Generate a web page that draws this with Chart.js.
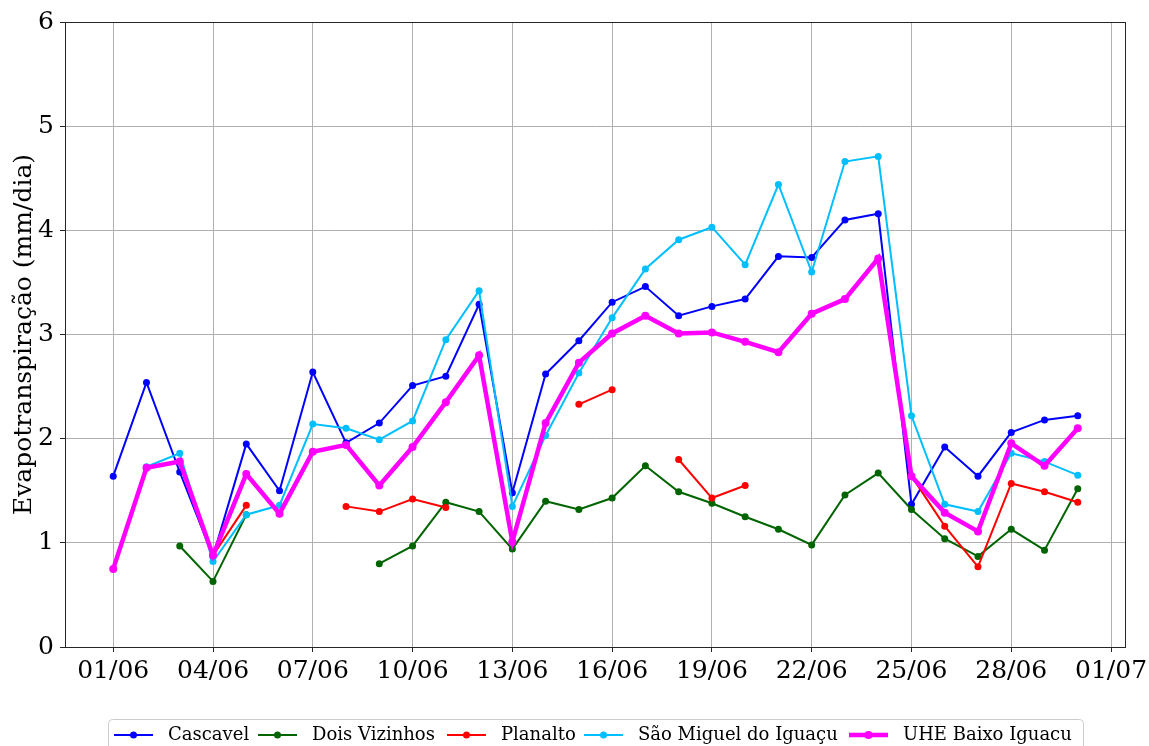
<!DOCTYPE html>
<html>
<head>
<meta charset="utf-8">
<script src="https://cdn.jsdelivr.net/npm/chart.js"></script>
<style>
  html, body { margin: 0; padding: 0; background: #ffffff; }
  #wrap { width: 1149px; height: 746px; }
</style>
</head>
<body>
<div id="wrap"><canvas id="chart"></canvas></div>
<script>
// days of June; tick 31 is shown as 01/07
const days = [1,2,3,4,5,6,7,8,9,10,11,12,13,14,15,16,17,18,19,20,21,22,23,24,25,26,27,28,29,30];
const xTicks = [1,4,7,10,13,16,19,22,25,28,31];
const yTicks = [0,1,2,3,4,5,6];

const cascavel = [1.64,2.54,1.68,0.87,1.95,1.50,2.64,1.96,2.15,2.51,2.60,3.29,1.48,2.62,2.94,3.31,3.46,3.18,3.27,3.34,3.75,3.74,4.10,4.16,1.37,1.92,1.64,2.06,2.18,2.22];
const doisVizinhos = [null,null,0.97,0.63,1.27,null,null,null,0.80,0.97,1.39,1.30,0.94,1.40,1.32,1.43,1.74,1.49,1.38,1.25,1.13,0.98,1.46,1.67,1.32,1.04,0.87,1.13,0.93,1.52];
const planalto = [null,null,null,0.88,1.36,null,null,1.35,1.30,1.42,1.34,null,null,null,2.33,2.47,null,1.80,1.43,1.55,null,null,null,null,1.64,1.16,0.77,1.57,1.49,1.39];
const saoMiguel = [null,1.73,1.86,0.82,1.27,1.36,2.14,2.10,1.99,2.17,2.95,3.42,1.35,2.03,2.63,3.16,3.63,3.91,4.03,3.67,4.44,3.60,4.66,4.71,2.22,1.37,1.30,1.86,1.78,1.65];
const uhe = [0.75,1.72,1.78,0.88,1.66,1.28,1.875,1.94,1.55,1.92,2.35,2.80,1.01,2.15,2.73,3.01,3.18,3.01,3.02,2.93,2.83,3.20,3.34,3.73,1.64,1.29,1.11,1.955,1.74,2.10];

const series = [
  { label: 'Cascavel', values: cascavel, color: '#0000ff', width: 2, radius: 3.5 },
  { label: 'Dois Vizinhos', values: doisVizinhos, color: '#006400', width: 2, radius: 3.5 },
  { label: 'Planalto', values: planalto, color: '#ff0000', width: 2, radius: 3.5 },
  { label: 'São Miguel do Iguaçu', values: saoMiguel, color: '#00bfff', width: 2, radius: 3.5 },
  { label: 'UHE Baixo Iguacu', values: uhe, color: '#ff00ff', width: 4.5, radius: 4 }
];

const serif = "'DejaVu Serif', serif";

const datasets = series.map((s, i) => ({
  label: s.label,
  data: days.map((d, k) => ({ x: d, y: s.values[k] })),
  borderColor: s.color,
  backgroundColor: s.color,
  pointBackgroundColor: s.color,
  pointBorderColor: s.color,
  borderWidth: s.width,
  pointRadius: s.radius,
  pointBorderWidth: 0,
  pointHoverRadius: s.radius,
  tension: 0,
  spanGaps: false,
  order: series.length - i
}));

function dayLabel(v) {
  const pad = n => (n < 10 ? '0' : '') + n;
  if (v <= 30) return pad(v) + '/06';
  return pad(v - 30) + '/07';
}

// frame around the plot + matplotlib style legend
const framePlugin = {
  id: 'frame',
  afterDraw(chart) {
    const { ctx, chartArea: a } = chart;
    ctx.save();
    ctx.strokeStyle = '#262626';
    ctx.lineWidth = 1;
    ctx.strokeRect(a.left + 0.5, a.top + 0.5, a.right - a.left - 1, a.bottom - a.top);

    // legend
    const lx = 108, ly = 719, lw = 975, lh = 40;
    ctx.fillStyle = 'rgba(255,255,255,0.8)';
    ctx.strokeStyle = '#cccccc';
    ctx.lineWidth = 1;
    ctx.beginPath();
    ctx.roundRect(lx + 0.5, ly + 0.5, lw, lh, 4);
    ctx.fill();
    ctx.stroke();

    const handleX = [114, 258, 447, 584, 849];
    ctx.font = "18px " + serif;
    ctx.textBaseline = 'middle';
    ctx.textAlign = 'left';
    const cy = 735;
    series.forEach((s, i) => {
      const x0 = handleX[i];
      ctx.strokeStyle = s.color;
      ctx.lineWidth = s.width;
      ctx.beginPath();
      ctx.moveTo(x0, cy);
      ctx.lineTo(x0 + 39, cy);
      ctx.stroke();
      ctx.fillStyle = s.color;
      ctx.beginPath();
      ctx.arc(x0 + 19.5, cy, s.radius, 0, Math.PI * 2);
      ctx.fill();
      ctx.fillStyle = '#000000';
      ctx.fillText(s.label, x0 + 54, cy);
    });
    ctx.restore();
  }
};

new Chart(document.getElementById('chart'), {
  type: 'line',
  data: { datasets: datasets },
  options: {
    responsive: true,
    maintainAspectRatio: false,
    animation: false,
    events: [],
    layout: { padding: { top: 22, right: 23, left: 0, bottom: 0 } },
    plugins: {
      legend: { display: false },
      tooltip: { enabled: false }
    },
    scales: {
      x: {
        type: 'linear',
        min: -0.45,
        max: 31.45,
        afterBuildTicks(scale) {
          scale.ticks = xTicks.map(v => ({ value: v }));
        },
        afterFit(scale) {
          scale.height = 99;
          scale.paddingLeft = 0;
          scale.paddingRight = 0;
        },
        border: { display: false },
        grid: {
          color: '#b0b0b0',
          lineWidth: 1,
          tickColor: '#262626',
          tickLength: 5,
          drawTicks: true
        },
        ticks: {
          callback: v => dayLabel(v),
          font: { family: serif, size: 25 },
          color: '#000000',
          padding: 4,
          maxRotation: 0,
          autoSkip: false
        }
      },
      y: {
        min: 0,
        max: 6,
        afterBuildTicks(scale) {
          scale.ticks = yTicks.map(v => ({ value: v }));
        },
        afterFit(scale) {
          scale.width = 65;
          scale.paddingTop = 0;
          scale.paddingBottom = 0;
        },
        border: { display: false },
        grid: {
          color: '#b0b0b0',
          lineWidth: 1,
          tickColor: '#262626',
          tickLength: 5
        },
        ticks: {
          font: { family: serif, size: 25 },
          color: '#000000',
          padding: 6
        },
        title: {
          display: true,
          text: 'Evapotranspiração (mm/dia)',
          font: { family: serif, size: 25 },
          color: '#000000',
          padding: { top: 9, bottom: 0 }
        }
      }
    }
  },
  plugins: [framePlugin]
});
</script>
</body>
</html>
